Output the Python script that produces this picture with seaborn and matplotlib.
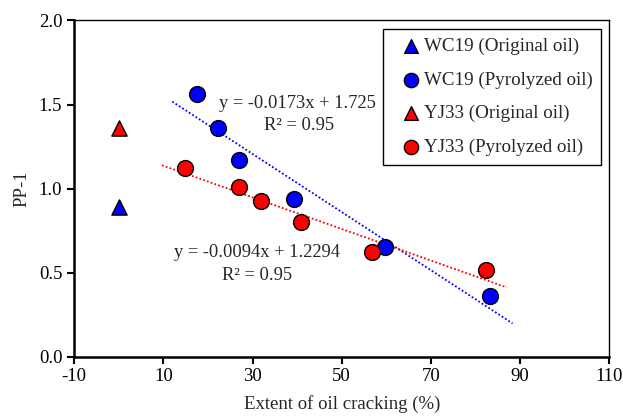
import numpy as np
import pandas as pd
import seaborn as sns
import matplotlib.pyplot as plt

# data
wc19_orig_x = [0]
wc19_orig_y = [0.89]
yj33_orig_x = [0]
yj33_orig_y = [1.36]
wc19_pyro_x = [17.6, 22.3, 27.0, 39.2, 59.8, 83.3]
wc19_pyro_y = [1.56, 1.36, 1.17, 0.94, 0.65, 0.36]
yj33_pyro_x = [14.8, 27.0, 31.9, 40.9, 56.7, 82.3]
yj33_pyro_y = [1.12, 1.01, 0.925, 0.80, 0.62, 0.515]

# trend lines (slope, intercept, x range)
wc19_fit = (-0.0173, 1.725)
wc19_fit_range = [12, 88.3]
yj33_fit = (-0.0094, 1.2294)
yj33_fit_range = [9.7, 87]

sns.set_style("white")
plt.rcParams['font.family'] = ['Liberation Serif', 'DejaVu Serif']
plt.rcParams['axes.unicode_minus'] = False

fig, ax = plt.subplots(figsize=(6.23, 4.18), dpi=100)
fig.subplots_adjust(left=0.119, right=0.978, top=0.951, bottom=0.147)

# trend lines
for fit, rng, col in [(wc19_fit, wc19_fit_range, 'blue'), (yj33_fit, yj33_fit_range, 'red')]:
    xs = np.array(rng)
    line = pd.DataFrame({'x': xs, 'y': fit[0] * xs + fit[1]})
    sns.lineplot(data=line, x='x', y='y', ax=ax, color=col, linestyle=(0, (1, 1.2)),
                 linewidth=1.3, zorder=2)

series = [
    (wc19_orig_x, wc19_orig_y, 'blue', '^', 'WC19 (Original oil)'),
    (wc19_pyro_x, wc19_pyro_y, 'blue', 'o', 'WC19 (Pyrolyzed oil)'),
    (yj33_orig_x, yj33_orig_y, 'red', '^', 'YJ33 (Original oil)'),
    (yj33_pyro_x, yj33_pyro_y, 'red', 'o', 'YJ33 (Pyrolyzed oil)'),
]
for xs, ys, col, mk, lab in series:
    d = pd.DataFrame({'x': xs, 'y': ys})
    sns.scatterplot(data=d, x='x', y='y', ax=ax, color=col, marker=mk,
                    s=130 if mk == 'o' else 120, edgecolor='black', linewidth=1,
                    label=lab, zorder=3)

fs = 13.3
ax.text(40, 1.505, 'y = -0.0173x + 1.725', fontsize=fs, ha='center', va='center')
ax.text(40.5, 1.375, 'R² = 0.95', fontsize=fs, ha='center', va='center')
ax.text(31, 0.617, 'y = -0.0094x + 1.2294', fontsize=fs, ha='center', va='center')
ax.text(31, 0.48, 'R² = 0.95', fontsize=fs, ha='center', va='center')

ax.set_xlim(-10, 110)
ax.set_ylim(0, 2.0)
ax.set_xticks(np.arange(-10, 111, 20))
ax.set_yticks(np.arange(0, 2.01, 0.5))
ax.yaxis.set_major_formatter(plt.FormatStrFormatter('%.1f'))
ax.tick_params(axis='both', which='major', direction='out', length=5, width=1.5,
               labelsize=13.5, left=True, bottom=True, color='black', labelcolor='black')
ax.set_xlabel('Extent of oil cracking (%)', fontsize=13.5, labelpad=7)
ax.set_ylabel('PP-1', fontsize=13.5, labelpad=6)

for side in ['left', 'bottom']:
    ax.spines[side].set_linewidth(1.8)
    ax.spines[side].set_color('black')
for side in ['top', 'right']:
    ax.spines[side].set_linewidth(1.0)
    ax.spines[side].set_color('black')

leg = ax.legend(loc='upper right', bbox_to_anchor=(0.985, 0.975), fontsize=13.7,
                frameon=True, fancybox=False, edgecolor='black', framealpha=1,
                handletextpad=-0.3, labelspacing=0.86, borderpad=0.45,
                markerscale=0.9, borderaxespad=0)
leg.get_frame().set_linewidth(1.0)

fig.savefig('out.png', dpi=100)
